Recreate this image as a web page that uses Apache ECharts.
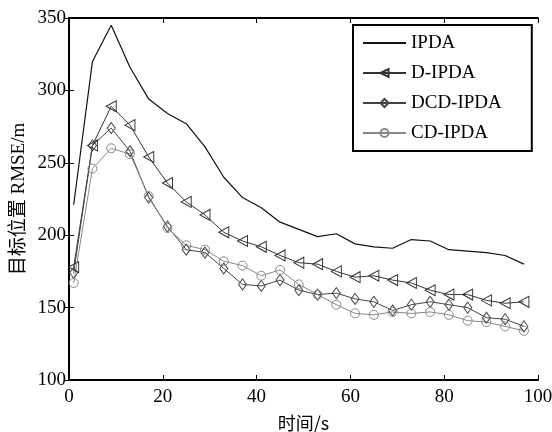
<!DOCTYPE html>
<html>
<head>
<meta charset="utf-8">
<script src="https://cdn.jsdelivr.net/npm/echarts@6/dist/echarts.min.js"></script>
<style>
html,body{margin:0;padding:0;background:#fff;}
#c{width:552px;height:432px;}
</style>
</head>
<body>
<div id="c"></div>
<script>
var times = [1,5,9,13,17,21,25,29,33,37,41,45,49,53,57,61,65,69,73,77,81,85,89,93,97];
var ipda = [221,320,345,316,294,284,277,261,240,226,219,209,204,199,201,194,192,191,197,196,190,189,188,186,180];
var dIpda = [178,262,289,276,254,236,223,214,202,196,192,186,181,180,175,171,172,169,167,162,159,159,155,153,154];
var dcdIpda = [174,262,274,258,226,206,190,188,177,166,165,169,162,159,160,156,154,148,152,154,152,150,143,142,137];
var cdIpda = [167,246,260,256,227,205,193,190,182,179,172,176,166,159,152,146,145,147,146,147,145,141,140,137,134];
var seriesNames = ['IPDA','D-IPDA','DCD-IPDA','CD-IPDA'];
var xTicks = [0,20,40,60,80,100];
var yTicks = [100,150,200,250,300,350];

function pairs(v){ return times.map(function(t,i){ return [t, v[i]]; }); }

var FONT = 'Liberation Serif, Times New Roman, serif';
var chart = echarts.init(document.getElementById('c'), null, {renderer:'canvas'});

function mkSeries(name, data, color, symbol, size, rot, lw){
  return {
    name: name, type: 'line', data: pairs(data),
    symbol: symbol, symbolSize: size, symbolRotate: rot || 0,
    showSymbol: symbol !== 'none',
    lineStyle: {color: color, width: lw},
    itemStyle: {color: 'rgba(255,255,255,0)', borderColor: color, borderWidth: 1},
    emphasis: {disabled: true},
    animation: false
  };
}

var axisLine = {show: true, lineStyle: {color: '#000', width: 2}};
chart.setOption({
  animation: false,
  grid: {left: 69, right: 14, top: 18, bottom: 52, containLabel: false, outerBoundsMode: 'none'},
  xAxis: [{
    type: 'value', min: xTicks[0], max: xTicks[xTicks.length-1], interval: 20,
    position: 'bottom',
    axisLine: axisLine,
    axisTick: {inside: true, length: 5, lineStyle: {color: '#000', width: 1}},
    axisLabel: {color: '#000', fontFamily: FONT, fontSize: 19, margin: 8},
    splitLine: {show: false},
    name: '时间/s', nameLocation: 'middle', nameGap: 34, nameMoveOverlap: false,
    nameTextStyle: {color: '#000', fontFamily: 'Noto Sans CJK SC, ' + FONT, fontSize: 18}
  },{
    type: 'value', min: 0, max: 100, interval: 20, position: 'top',
    axisLine: axisLine,
    axisTick: {inside: true, length: 5, lineStyle: {color: '#000', width: 1}},
    axisLabel: {show: false}, splitLine: {show: false}
  }],
  yAxis: [{
    type: 'value', min: yTicks[0], max: yTicks[yTicks.length-1], interval: 50,
    position: 'left',
    axisLine: axisLine,
    axisTick: {inside: true, length: 5, lineStyle: {color: '#000', width: 1}},
    axisLabel: {color: '#000', fontFamily: FONT, fontSize: 19, margin: 3},
    splitLine: {show: false},
    name: '目标位置 RMSE/m', nameLocation: 'middle', nameGap: 40, nameRotate: 90, nameMoveOverlap: false,
    nameTextStyle: {color: '#000', fontFamily: 'Liberation Serif, Noto Sans CJK SC, serif', fontSize: 19}
  },{
    type: 'value', min: 100, max: 350, interval: 50, position: 'right',
    axisLine: axisLine,
    axisTick: {inside: true, length: 5, lineStyle: {color: '#000', width: 1}},
    axisLabel: {show: false}, splitLine: {show: false}
  }],
  legend: {
    data: [
      {name: seriesNames[0], itemStyle: {color: 'rgba(0,0,0,0)', borderColor: 'rgba(0,0,0,0)', borderWidth: 0}},
      seriesNames[1], seriesNames[2], seriesNames[3]
    ],
    orient: 'vertical', left: 353, top: 25,
    padding: [8, 30, 8, 9], itemGap: 10,
    itemWidth: 43, itemHeight: 10,
    borderColor: '#000', borderWidth: 2, backgroundColor: '#fff',
    textStyle: {color: '#000', fontFamily: FONT, fontSize: 19, lineHeight: 20},
    selectedMode: false
  },
  series: [
    mkSeries(seriesNames[0], ipda, '#111', 'none', 0, 0, 1.2),
    mkSeries(seriesNames[1], dIpda, '#333', 'triangle', [11,10], 90, 1),
    mkSeries(seriesNames[2], dcdIpda, '#444', 'diamond', [8,11], 0, 1),
    mkSeries(seriesNames[3], cdIpda, '#888', 'circle', 9, 0, 1)
  ]
});
</script>
</body>
</html>
